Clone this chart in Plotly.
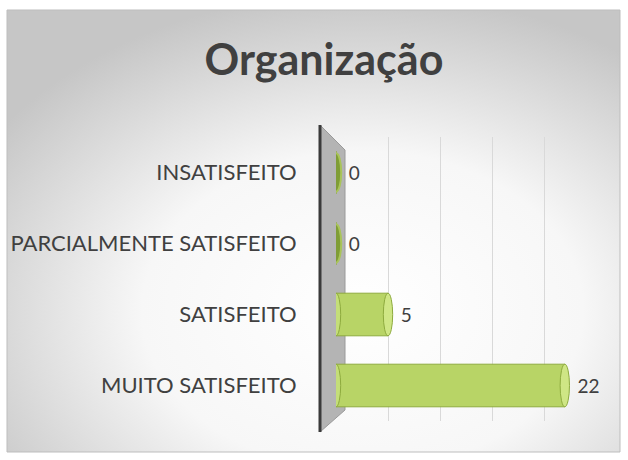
import base64
import plotly.graph_objects as go

categories = ["INSATISFEITO", "PARCIALMENTE SATISFEITO", "SATISFEITO", "MUITO SATISFEITO"]
values = [0, 0, 5, 22]
title_text = "Organização"

W, H = 628, 460
L, R, T, B = 336, 32, 137, 39
PW, PH = W - L - R, H - T - B

def px(x):
    return (x - L) / PW

def py(y):
    return (H - B - y) / PH

svg = """<svg xmlns='http://www.w3.org/2000/svg' width='613' height='442'>
<defs><radialGradient id='g' cx='58%' cy='68%' r='72%'>
<stop offset='0' stop-color='#ffffff'/><stop offset='0.5' stop-color='#f7f7f7'/>
<stop offset='1' stop-color='#c6c6c6'/></radialGradient></defs>
<rect width='613' height='442' fill='url(#g)'/></svg>"""
bg_src = "data:image/svg+xml;base64," + base64.b64encode(svg.encode()).decode()

fig = go.Figure()
fig.add_trace(go.Bar(
    x=values, y=categories, orientation="h", width=0.6,
    marker=dict(color="#b8d466", line=dict(color="#8eab3e", width=1)),
    text=values, texttemplate="  %{x}", textposition="outside",
    textfont=dict(family="Lato", size=19, color="#404040"),
    cliponaxis=False, hoverinfo="skip",
))

shapes = []
# panel border
shapes.append(dict(type="rect", xref="paper", yref="paper",
                   x0=px(7), x1=px(620), y0=py(452), y1=py(10),
                   line=dict(color="#bdbdbd", width=1), fillcolor="rgba(0,0,0,0)", layer="below"))
# side wall
shapes.append(dict(type="path", xref="paper", yref="paper",
                   path=f"M {px(320)},{py(125)} L {px(345)},{py(150)} L {px(345)},{py(410)} L {px(320)},{py(432)} Z",
                   fillcolor="#b4b4b4", line=dict(color="#9a9a9a", width=1), layer="below"))
shapes.append(dict(type="line", xref="paper", yref="paper",
                   x0=px(320), x1=px(320), y0=py(125), y1=py(432),
                   line=dict(color="#3a3a3a", width=3), layer="below"))
# cylinder caps derived from values
for i, v in enumerate(values):
    if v == 0:
        shapes.append(dict(type="circle", xref="x", yref="y",
                           x0=v - 0.5, x1=v + 0.5, y0=i - 0.27, y1=i + 0.27,
                           fillcolor="#7f9d35", line=dict(color="#a9c45a", width=2)))
    else:
        shapes.append(dict(type="circle", xref="x", yref="y",
                           x0=-0.45, x1=0.45, y0=i - 0.3, y1=i + 0.3,
                           fillcolor="#c4de78", line=dict(color="#8eab3e", width=1)))
        shapes.append(dict(type="circle", xref="x", yref="y",
                           x0=v - 0.45, x1=v + 0.45, y0=i - 0.3, y1=i + 0.3,
                           fillcolor="#cfe685", line=dict(color="#8eab3e", width=1)))

fig.update_layout(
    width=W, height=H,
    margin=dict(l=L, r=R, t=T, b=B, autoexpand=False),
    paper_bgcolor="white", plot_bgcolor="rgba(0,0,0,0)",
    showlegend=False,
    title=dict(text=f"<b>{title_text}</b>", x=324 / W, xref="container", xanchor="center",
               y=1 - 60 / H, yref="container", yanchor="middle",
               font=dict(family="Lato", size=43, color="#404040")),
    xaxis=dict(range=[0, 25], dtick=5, showticklabels=False, showgrid=True, automargin=False,
               gridcolor="#d9d9d9", gridwidth=1, zeroline=False, showline=False, fixedrange=True),
    yaxis=dict(autorange="reversed", showgrid=False, zeroline=False, showline=False, automargin=False,
               ticks="outside", ticklen=34, tickcolor="rgba(0,0,0,0)", fixedrange=True,
               tickfont=dict(family="Lato", size=22, color="#404040")),
    images=[dict(source=bg_src, xref="paper", yref="paper", x=px(7), y=py(10),
                 sizex=px(620) - px(7), sizey=py(10) - py(452),
                 xanchor="left", yanchor="top", sizing="stretch", layer="below")],
    shapes=shapes,
)

fig.write_html("out.html", config={"displayModeBar": False},
               post_script="document.body.style.margin='0';document.body.style.padding='0';")
